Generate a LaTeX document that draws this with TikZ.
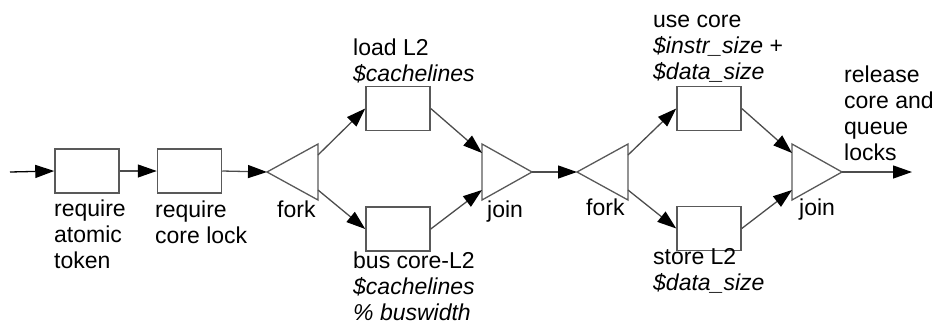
\documentclass[tikz,border=0pt]{standalone}
\usepackage{fontspec}
\setmainfont{Liberation Sans}
\usetikzlibrary{arrows.meta,calc}
\begin{document}
\begin{tikzpicture}[x=1pt,y=-1pt,
  box/.style={draw=black!65,line width=1.5pt,minimum width=64pt,minimum height=44pt,inner sep=0pt},
  tri/.style={draw=black!65,line width=1.3pt,line join=miter},
  conn/.style={draw=black!70,line width=1.3pt,-{Triangle[length=19pt,width=13pt,color=black,fill=black]}},
  lbl/.style={font=\fontsize{23}{26}\selectfont,align=left,inner sep=0pt,anchor=base west},
]
\useasboundingbox (0,0) rectangle (938,325);
% boxes
\node[box] (b1) at (87,171) {};
\node[box] (b2) at (189.5,171) {};
\node[box] (tb1) at (398,108.5) {};
\node[box] (bb1) at (398,229) {};
\node[box] (tb2) at (709,108.5) {};
\node[box] (bb2) at (709,228.5) {};
% triangles
\draw[tri] (267,172) -- (318,144) -- (318,200) -- cycle;
\draw[tri] (482,144) -- (532,172) -- (482,200) -- cycle;
\draw[tri] (577,172) -- (628,144) -- (628,200) -- cycle;
\draw[tri] (792,144) -- (842,172) -- (792,200) -- cycle;
\coordinate (in) at (10,172);
\coordinate (f1) at (267,172);
\coordinate (f1u) at (318,155);
\coordinate (f1d) at (318,190);
\coordinate (j1u) at (482,153);
\coordinate (j1d) at (482,190);
\coordinate (j1) at (532,172);
\coordinate (f2) at (577,172);
\coordinate (f2u) at (628,155);
\coordinate (f2d) at (628,190);
\coordinate (j2u) at (792,153);
\coordinate (j2d) at (792,190);
\coordinate (j2) at (842,172);
\coordinate (out) at (912,172);
% connectors
\draw[conn,draw=black] (in) -- (b1.west);
\draw[conn] (b1.east) -- (b2.west);
\draw[conn] (b2.east) -- (f1);
\draw[conn] (f1u) -- (tb1.west);
\draw[conn] (f1d) -- (bb1.west);
\draw[conn] (tb1.east) -- (j1u);
\draw[conn] (bb1.east) -- (j1d);
\draw[conn] (j1) -- (f2);
\draw[conn] (f2u) -- (tb2.west);
\draw[conn] (f2d) -- (bb2.west);
\draw[conn] (tb2.east) -- (j2u);
\draw[conn] (bb2.east) -- (j2d);
\draw[conn] (j2) -- (out);
% labels (anchor at baseline of last line)
\node[lbl] (l1) at (54,268) {require\\atomic\\token};
\node[lbl] (l2) at (155,243) {require\\core lock};
\node[lbl] (l3) at (277,217) {fork};
\node[lbl] (l4) at (353,81) {load L2\\\textit{\$cachelines}};
\node[lbl] (l5) at (353,320) {bus core-L2\\\textit{\$cachelines}\\\textit{\% buswidth}};
\node[lbl] (l6) at (487,217) {join};
\node[lbl] (l7) at (586,215) {fork};
\node[lbl] (l8) at (653,79) {use core\\\textit{\$instr\_size} +\\\textit{\$data\_size}};
\node[lbl] (l9) at (653,290) {store L2\\\textit{\$data\_size}};
\node[lbl] (l10) at (799,215) {join};
\node[lbl] (l11) at (844,160) {release\\core and\\queue\\locks};
\end{tikzpicture}
\end{document}
